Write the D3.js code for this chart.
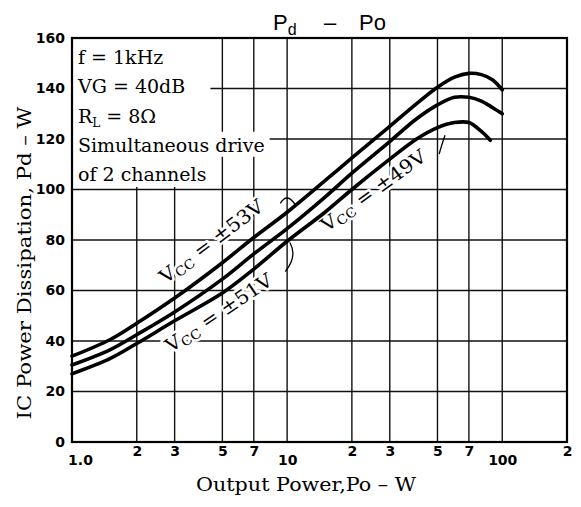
<!DOCTYPE html>
<html>
<head>
<meta charset="utf-8">
<script src="https://cdn.jsdelivr.net/npm/d3@7"></script>
<style>
  body { margin: 0; background: #fff; }
  svg { display: block; }
</style>
</head>
<body>
<svg id="chart" width="581" height="507"></svg>
<script>
// Pd - Po curves
const powerOut = [1, 1.5, 2, 3, 5, 7, 10, 15, 20, 30, 40, 50, 60, 70, 80, 90, 100];
const pd53 = [34, 40.5, 47, 57, 71, 81, 91, 103.5, 112.5, 125, 134, 140.5, 144.5, 146, 145.5, 143.5, 139.5];
const pd51 = [30.5, 36.5, 42.5, 51.5, 64.5, 74.5, 84.5, 97, 106.5, 119, 128, 133.5, 136.5, 136.5, 135, 132.5, 130];
const powerOut49 = [1, 1.5, 2, 3, 5, 7, 10, 15, 20, 30, 40, 50, 60, 70, 80, 88];
const pd49 = [27, 33, 39, 48, 59, 68.5, 79.5, 91, 100, 112, 120, 124.5, 126.5, 126.5, 123, 119.5];

const xTicks = [1, 2, 3, 5, 7, 10, 20, 30, 50, 70, 100, 200];
const xTickLabels = ["1.0", "2", "3", "5", "7", "10", "2", "3", "5", "7", "100", "2"];
const yTicks = [0, 20, 40, 60, 80, 100, 120, 140, 160];

const conditions = ["f = 1kHz", "VG = 40dB", "R|L| = 8Ω", "Simultaneous drive", "of 2 channels"];

const svg = d3.select("#chart");
const serif = "'DejaVu Serif', serif";

const x = d3.scaleLog().domain([1, 200]).range([72, 567]);
const y = d3.scaleLinear().domain([0, 160]).range([442, 38]);

// grid
const grid = svg.append("g").attr("class", "grid");
grid.selectAll("line.v").data(xTicks.slice(1, -1)).join("line")
    .attr("class", "v")
    .attr("x1", d => x(d)).attr("x2", d => x(d))
    .attr("y1", y(0)).attr("y2", y(160))
    .attr("stroke", "#111").attr("stroke-width", 1.4);
grid.selectAll("line.h").data(yTicks.slice(1, -1)).join("line")
    .attr("class", "h")
    .attr("x1", x(1)).attr("x2", x(200))
    .attr("y1", d => y(d)).attr("y2", d => y(d))
    .attr("stroke", "#111").attr("stroke-width", 1.4);

// axes (labels only, frame drawn separately)
const xAxis = d3.axisBottom(x).tickValues(xTicks).tickSize(0).tickPadding(6)
    .tickFormat((d, i) => xTickLabels[i]);
const gx = svg.append("g").attr("transform", `translate(0,${y(0)})`).call(xAxis);
gx.select(".domain").remove();
gx.selectAll("text")
    .attr("font-family", "'DejaVu Sans', sans-serif")
    .attr("font-weight", "bold")
    .attr("font-size", 14)
    .attr("fill", "#000")
    .attr("dy", (d) => [1, 10, 100].includes(d) ? "1.2em" : "0.6em")
    .attr("dx", (d) => d === 1 ? 8 : 0);

const yAxis = d3.axisLeft(y).tickValues(yTicks).tickSize(0).tickPadding(7);
const gy = svg.append("g").attr("transform", `translate(${x(1)},0)`).call(yAxis);
gy.select(".domain").remove();
gy.selectAll("text")
    .attr("font-family", "'DejaVu Sans', sans-serif")
    .attr("font-weight", "bold")
    .attr("font-size", 14)
    .attr("fill", "#000");

// condition box (white backing hides the grid)
const box = svg.append("g");
const boxBg = box.append("g");
const lines = box.selectAll("text").data(conditions).join("text")
    .attr("x", x(1) + 6)
    .attr("y", (d, i) => 64 + i * 29.25)
    .attr("font-family", serif)
    .attr("font-size", 19)
    .attr("fill", "#000");
lines.each(function(d) {
  const t = d3.select(this);
  d.split("|").forEach((part, k) => {
    t.append("tspan").text(part)
      .attr("font-size", k === 1 ? 12 : null)
      .attr("dy", k === 1 ? 4 : (k === 2 ? -4 : null));
  });
});
const bbs = lines.nodes().map(n => n.getBBox());
const narrowRight = d3.max([bbs[0], bbs[1], bbs[2], bbs[4]], b => b.x + b.width) + 3;
boxBg.append("rect").attr("x", x(1) + 1).attr("y", y(160) + 1)
    .attr("width", narrowRight - x(1)).attr("height", bbs[4].y + bbs[4].height + 1 - y(160))
    .attr("fill", "#fff");
boxBg.append("rect").attr("x", x(1) + 1).attr("y", bbs[3].y - 2)
    .attr("width", bbs[3].x + bbs[3].width + 4 - x(1)).attr("height", bbs[3].height + 3)
    .attr("fill", "#fff");

// frame
svg.append("rect")
    .attr("x", x(1)).attr("y", y(160))
    .attr("width", x(200) - x(1)).attr("height", y(0) - y(160))
    .attr("fill", "none").attr("stroke", "#000").attr("stroke-width", 2.2);

// curve labels
const vccLabels = [
  { text: "±53V", px: 2.72, pd: 62.5, angle: -37 },
  { text: "±51V", px: 2.88, pd: 35.2, angle: -34 },
  { text: "±49V", px: 15.3, pd: 83, angle: -36 }
];
const lab = svg.append("g").selectAll("text").data(vccLabels).join("text")
    .attr("transform", d => `translate(${x(d.px)},${y(d.pd)}) rotate(${d.angle}) scale(1.08,1)`)
    .attr("font-family", serif)
    .attr("font-size", 19)
    .attr("fill", "#000")
    .attr("stroke", "#fff").attr("stroke-width", 5)
    .attr("paint-order", "stroke")
    .attr("stroke-linejoin", "round");
lab.append("tspan").text("V");
lab.append("tspan").text("CC").attr("font-size", 13).attr("dy", 3);
lab.append("tspan").text(d => " = " + d.text).attr("dy", -3);

// small pointer marks from labels to curves
const pointers = [
  [[9.3, 94.5], [10, 99], [10.9, 94]],
  [[10.3, 79], [11.2, 73.5], [9.8, 67.5]],
  [[50.9, 114], [52, 117], [54.2, 121.5]]
];
svg.append("g").selectAll("path").data(pointers).join("path")
    .attr("d", p => `M${x(p[0][0])},${y(p[0][1])} Q${x(p[1][0])},${y(p[1][1])} ${x(p[2][0])},${y(p[2][1])}`)
    .attr("fill", "none").attr("stroke", "#000").attr("stroke-width", 1.3);

// curves
const line = d3.line().x(d => x(d[0])).y(d => y(d[1])).curve(d3.curveCatmullRom.alpha(0.5));
const series = [
  d3.zip(powerOut, pd53),
  d3.zip(powerOut, pd51),
  d3.zip(powerOut49, pd49)
];
svg.append("g").selectAll("path").data(series).join("path")
    .attr("d", line)
    .attr("fill", "none").attr("stroke", "#000")
    .attr("stroke-width", 3.6).attr("stroke-linecap", "round");

// title
const title = svg.append("text")
    .attr("y", 30)
    .attr("font-family", "'Liberation Sans', Arial, sans-serif")
    .attr("font-size", 22).attr("fill", "#000");
title.append("tspan").attr("x", 273).text("P");
title.append("tspan").text("d").attr("font-size", 16).attr("dy", 5);
title.append("tspan").attr("x", 324).attr("dy", -5).text("–");
title.append("tspan").attr("x", 359).text("Po");

// axis titles (the scan's serif face is wide, so stretch horizontally)
svg.append("text")
    .attr("transform", "translate(306,491) scale(1.15,1)")
    .attr("text-anchor", "middle")
    .attr("font-family", serif).attr("font-size", 18)
    .attr("fill", "#000")
    .text("Output Power,Po – W");

svg.append("text")
    .attr("transform", `translate(31,${(y(0) + y(160)) / 2 + 23}) rotate(-90) scale(1.18,1)`)
    .attr("text-anchor", "middle")
    .attr("font-family", serif).attr("font-size", 18)
    .attr("fill", "#000")
    .text("IC Power Dissipation, Pd – W");
</script>
</body>
</html>
